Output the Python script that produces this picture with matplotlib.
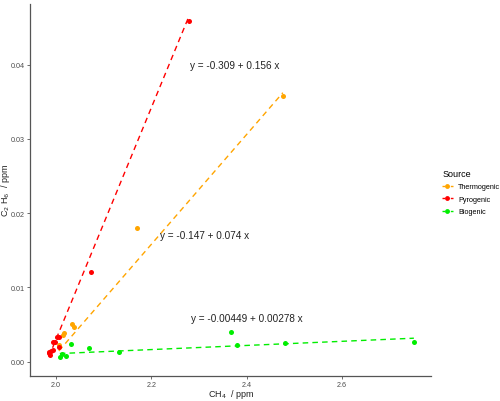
import numpy as np
import matplotlib
matplotlib.use('Agg')
import matplotlib.pyplot as plt
from matplotlib.lines import Line2D

plt.rcParams['font.family'] = ['Liberation Sans', 'DejaVu Sans']

# Данные по источникам (CH4, C2H6 в ppm)
sources = ['Thermogenic', 'Pyrogenic', 'Biogenic']
colors = ['#FFA500', '#FF0000', '#00EE00']

thermo_ch4 = [2.476, 2.169, 2.033, 2.037, 2.017, 2.015, 2.006]
thermo_c2h6 = [0.0358, 0.0180, 0.00508, 0.00464, 0.0039, 0.00356, 0.00229]

pyro_ch4 = [2.279, 2.074, 2.003, 2.007, 1.998, 1.993, 2.006, 1.985, 1.990, 1.994, 1.987, 1.985]
pyro_c2h6 = [0.0459, 0.0121, 0.00333, 0.00329, 0.0027, 0.0027, 0.0020, 0.00135, 0.00144, 0.0016, 0.0009, 0.0012]

bio_ch4 = [2.751, 2.367, 2.379, 2.480, 2.133, 2.069, 2.031, 2.022, 2.012, 2.008]
bio_c2h6 = [0.00265, 0.00396, 0.00229, 0.00252, 0.00127, 0.00189, 0.00243, 0.00081, 0.00104, 0.00067]

# коэффициенты регрессии (intercept, slope) и положение подписей
intercepts = [-0.147, -0.309, -0.00449]
slopes = [0.074, 0.156, 0.00278]
eq_labels = ['y = -0.147 + 0.074 x', 'y = -0.309 + 0.156 x', 'y = -0.00449 + 0.00278 x']
eq_x = [2.311, 2.376, 2.400]
eq_y = [0.0170, 0.0399, 0.00589]

xs = [thermo_ch4, pyro_ch4, bio_ch4]
ys = [thermo_c2h6, pyro_c2h6, bio_c2h6]

fig = plt.figure(figsize=(5, 4.02), dpi=100)
ax = fig.add_axes([0.06, 0.063, 0.803, 0.925])

for i in range(3):
    x = np.array(xs[i])
    xl = np.array([x.min(), x.max()])
    ax.plot(xl, intercepts[i] + slopes[i] * xl, color=colors[i], lw=1.0,
            dashes=(4, 3), zorder=2)
    ax.scatter(x, ys[i], s=13, color=colors[i], zorder=3, linewidths=0)
    ax.text(eq_x[i], eq_y[i], eq_labels[i], fontsize=7.2, color='#222222',
            ha='center', va='center')

ax.set_xlim(1.9454, 2.788)
ax.set_ylim(-0.00189, 0.0482)
ax.set_xticks([2.0, 2.2, 2.4, 2.6])
ax.set_xticklabels(['2.0', '2.2', '2.4', '2.6'])
ax.set_yticks([0.0, 0.01, 0.02, 0.03, 0.04])
ax.set_yticklabels(['0.00', '0.01', '0.02', '0.03', '0.04'])

for s in ['top', 'right']:
    ax.spines[s].set_visible(False)
for s in ['left', 'bottom']:
    ax.spines[s].set_color('#555555')
    ax.spines[s].set_linewidth(0.9)
ax.tick_params(colors='#555555', labelcolor='#4D4D4D', labelsize=5.2, length=2, width=0.6, pad=2)

ax.set_xlabel('CH$_4$  / ppm', fontsize=6.5, color='#222222')
ax.set_ylabel('C$_2$ H$_6$  / ppm', fontsize=6.5, color='#222222')
ax.xaxis.set_label_coords(0.5, -0.048)
ax.yaxis.set_label_coords(-0.061, 0.5)
ax.xaxis.label.set_va('center')
ax.yaxis.label.set_va('center')

handles = [Line2D([0], [0], color=c, lw=1, dashes=(2, 1), marker='o', markersize=3.5,
                  markeredgewidth=0) for c in colors]
leg = fig.legend(handles, sources, title='Source', loc='upper left',
                 bbox_to_anchor=(0.879, 0.585), frameon=False, fontsize=5.2,
                 title_fontsize=6.5, handlelength=1.4, labelspacing=0.75,
                 handletextpad=0.8, borderaxespad=0)
leg._legend_box.align = 'left'

fig.savefig('out.png', dpi=100)
